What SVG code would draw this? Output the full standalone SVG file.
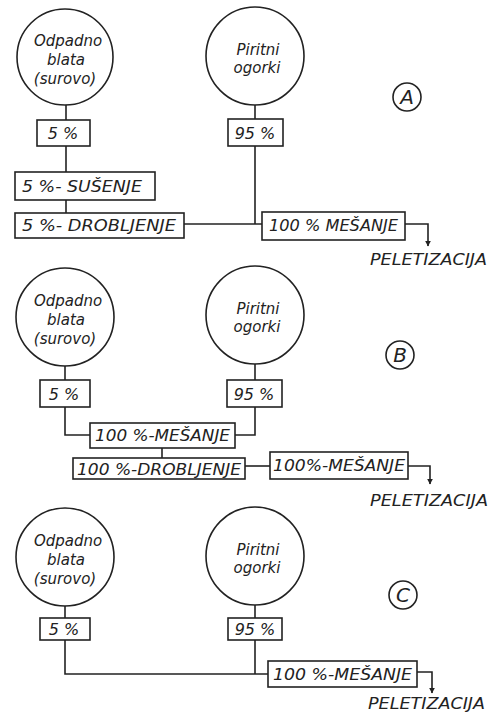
<svg xmlns="http://www.w3.org/2000/svg" width="494" height="712" viewBox="0 0 494 712">
<style>
  .bg{fill:#ffffff}
  .node{fill:none;stroke:#222;stroke-width:1.6}
  .box{fill:#fff;stroke:#222;stroke-width:1.6}
  .ln{fill:none;stroke:#222;stroke-width:1.6}
  text{font-family:"DejaVu Sans","Liberation Sans",sans-serif;font-style:oblique;fill:#222;font-size:14px}
  .c{text-anchor:middle}
  .ct{font-size:15px}
  .pc{font-size:16px}
  .lbl{font-size:20px;font-style:oblique}
</style>
<defs>
  <marker id="arr" viewBox="0 0 10 10" refX="9" refY="5" markerWidth="6" markerHeight="7" orient="auto" markerUnits="userSpaceOnUse">
    <path d="M0,0 L10,5 L0,10 z" fill="#222"/>
  </marker>
</defs>
<rect class="bg" x="0" y="0" width="494" height="712"/>

<!-- Section A -->
<g id="A-odpadno"><circle class="node" cx="65" cy="57" r="48"/>
  <text class="c ct" x="68" y="46">Odpadno</text><text class="c ct" x="66" y="65">blata</text><text class="c ct" x="65" y="84">(surovo)</text></g>
<g id="A-piritni"><circle class="node" cx="255" cy="56" r="49"/>
  <text class="c ct" x="258" y="55">Piritni</text><text class="c ct" x="257" y="73">ogorki</text></g>
<g id="A-label"><circle class="node" cx="407" cy="97" r="14"/><text class="c lbl" x="407" y="104">A</text></g>

<g id="A-conn">
  <path class="ln" d="M66,105 V120 M66,146 V172 M66,200 V213"/>
  <path class="ln" d="M255,105 V119 M255,146 V224"/>
  <path class="ln" d="M184,224 H262"/>
  <path class="ln" d="M405,224 H428 V246" marker-end="url(#arr)"/>
</g>
<g id="A-5"><rect class="box" x="37" y="120" width="53" height="26"/><text class="c pc" x="63" y="139">5 %</text></g>
<g id="A-95"><rect class="box" x="228" y="119" width="55" height="27"/><text class="c pc" x="255" y="139">95 %</text></g>
<g id="A-susenje"><rect class="box" x="15" y="172" width="140" height="28"/><text class="ct" x="22" y="192" textLength="120" lengthAdjust="spacingAndGlyphs">5 %- SUŠENJE</text></g>
<g id="A-drobljenje"><rect class="box" x="15" y="213" width="169" height="25"/><text class="ct" x="22" y="231" textLength="154" lengthAdjust="spacingAndGlyphs">5 %- DROBLJENJE</text></g>
<g id="A-mesanje"><rect class="box" x="262" y="212" width="143" height="28"/><text class="ct" x="269" y="231" textLength="129" lengthAdjust="spacingAndGlyphs">100 % MEŠANJE</text></g>
<g id="A-out"><text class="ct" x="370" y="265" textLength="117" lengthAdjust="spacingAndGlyphs">PELETIZACIJA</text></g>

<!-- Section B -->
<g id="B-odpadno"><circle class="node" cx="65" cy="317" r="49"/>
  <text class="c ct" x="68" y="306">Odpadno</text><text class="c ct" x="66" y="325">blata</text><text class="c ct" x="65" y="344">(surovo)</text></g>
<g id="B-piritni"><circle class="node" cx="255" cy="315" r="49"/>
  <text class="c ct" x="258" y="314">Piritni</text><text class="c ct" x="257" y="332">ogorki</text></g>
<g id="B-label"><circle class="node" cx="400" cy="355" r="14"/><text class="c lbl" x="400" y="362">B</text></g>

<g id="B-conn">
  <path class="ln" d="M65,366 V380 M65,407 V435 H90"/>
  <path class="ln" d="M255,364 V380 M255,407 V435 H235"/>
  <path class="ln" d="M162,448 V458"/>
  <path class="ln" d="M245,466 H270"/>
  <path class="ln" d="M408,466 H430 V484" marker-end="url(#arr)"/>
</g>
<g id="B-5"><rect class="box" x="40" y="380" width="50" height="27"/><text class="c pc" x="64" y="400">5 %</text></g>
<g id="B-95"><rect class="box" x="227" y="380" width="55" height="27"/><text class="c pc" x="254" y="400">95 %</text></g>
<g id="B-mesanje1"><rect class="box" x="90" y="423" width="145" height="25"/><text class="ct" x="95" y="441" textLength="135" lengthAdjust="spacingAndGlyphs">100 %-MEŠANJE</text></g>
<g id="B-drobljenje"><rect class="box" x="73" y="458" width="172" height="21"/><text class="ct" x="77" y="475" textLength="164" lengthAdjust="spacingAndGlyphs">100 %-DROBLJENJE</text></g>
<g id="B-mesanje2"><rect class="box" x="270" y="452" width="138" height="27"/><text class="ct" x="273" y="471" textLength="132" lengthAdjust="spacingAndGlyphs">100%-MEŠANJE</text></g>
<g id="B-out"><text class="ct" x="370" y="506" textLength="118" lengthAdjust="spacingAndGlyphs">PELETIZACIJA</text></g>

<!-- Section C -->
<g id="C-odpadno"><circle class="node" cx="65" cy="557" r="49"/>
  <text class="c ct" x="68" y="546">Odpadno</text><text class="c ct" x="66" y="565">blata</text><text class="c ct" x="65" y="584">(surovo)</text></g>
<g id="C-piritni"><circle class="node" cx="255" cy="556" r="49"/>
  <text class="c ct" x="258" y="555">Piritni</text><text class="c ct" x="257" y="573">ogorki</text></g>
<g id="C-label"><circle class="node" cx="403" cy="595" r="14"/><text class="c lbl" x="403" y="602">C</text></g>

<g id="C-conn">
  <path class="ln" d="M65,606 V618 M65,640 V674 H268"/>
  <path class="ln" d="M255,605 V618 M255,640 V674"/>
  <path class="ln" d="M417,672 H432 V693" marker-end="url(#arr)"/>
</g>
<g id="C-5"><rect class="box" x="40" y="618" width="50" height="22"/><text class="c pc" x="64" y="635">5 %</text></g>
<g id="C-95"><rect class="box" x="228" y="618" width="54" height="22"/><text class="c pc" x="255" y="635">95 %</text></g>
<g id="C-mesanje"><rect class="box" x="268" y="661" width="149" height="26"/><text class="ct" x="273" y="680" textLength="139" lengthAdjust="spacingAndGlyphs">100 %-MEŠANJE</text></g>
<g id="C-out"><text class="ct" x="368" y="709" textLength="117" lengthAdjust="spacingAndGlyphs">PELETIZACIJA</text></g>
</svg>
